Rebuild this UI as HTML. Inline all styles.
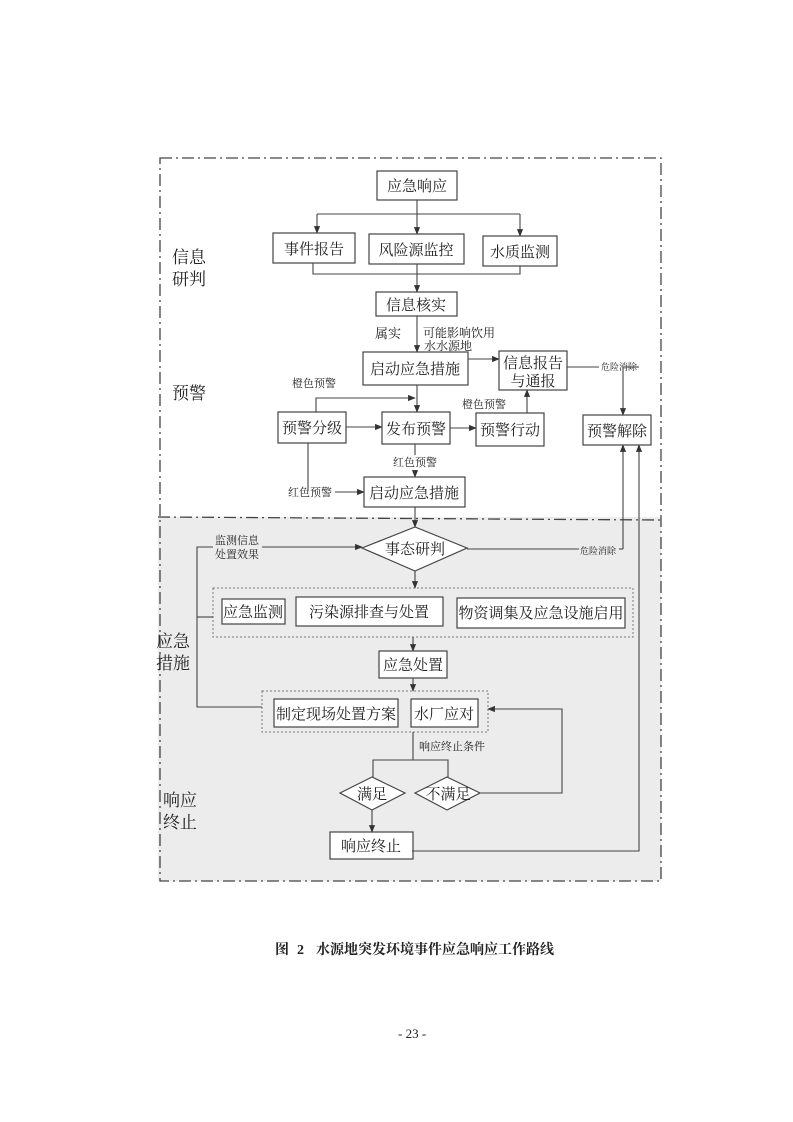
<!DOCTYPE html>
<html><head><meta charset="utf-8"><style>
html,body{margin:0;padding:0;background:#fff;}
svg{display:block;}
text{font-family:"Liberation Serif","Noto Serif CJK SC","Noto Sans CJK SC",serif;fill:#222;}
</style></head><body>
<svg width="793" height="1122" viewBox="0 0 793 1122" xmlns="http://www.w3.org/2000/svg">
<defs>
<marker id="a" viewBox="0 0 10 10" refX="9" refY="5" markerWidth="7" markerHeight="7" orient="auto"><path d="M0,1 L10,5 L0,9 z" fill="#333"/></marker>
</defs>
<rect x="0" y="0" width="793" height="1122" fill="#fff"/>
<rect x="158" y="517" width="503" height="364" fill="#ececec"/>
<g fill="none" stroke="#444" stroke-width="1.3" stroke-dasharray="12,4,2,4">
<rect x="160" y="158" width="501" height="723"/>
<line x1="158" y1="517" x2="661" y2="520"/>
</g>
<g font-size="17">
<text x="172" y="263">信息</text><text x="172" y="285">研判</text>
<text x="172" y="399">预警</text>
<text x="156" y="647">应急</text><text x="156" y="669">措施</text>
<text x="163" y="806">响应</text><text x="163" y="828">终止</text>
</g>
<g fill="#fff" stroke="#444" stroke-width="1.2">
<rect x="377" y="171" width="80" height="29"/>
<rect x="273" y="233" width="82" height="30"/>
<rect x="369" y="234" width="95" height="30"/>
<rect x="483" y="236" width="74" height="30"/>
<rect x="376" y="292" width="81" height="24"/>
<rect x="363" y="352" width="105" height="33"/>
<rect x="499" y="351" width="68" height="39"/>
<rect x="278" y="412" width="68" height="31"/>
<rect x="382" y="412" width="68" height="32"/>
<rect x="476" y="413" width="68" height="33"/>
<rect x="583" y="415" width="68" height="30"/>
<rect x="364" y="477" width="101" height="30"/>
</g>
<g fill="none" stroke="#777" stroke-width="1" stroke-dasharray="2,2">
<rect x="213" y="588" width="420" height="49"/>
<rect x="262" y="691" width="226" height="41"/>
</g>
<g fill="#fff" stroke="#444" stroke-width="1.2">
<rect x="222" y="599" width="63" height="25"/>
<rect x="296" y="597" width="147" height="29"/>
<rect x="457" y="598" width="168" height="30"/>
<rect x="379" y="651" width="68" height="27"/>
<rect x="274" y="699" width="124" height="28"/>
<rect x="411" y="699" width="67" height="28"/>
<rect x="330" y="832" width="83" height="27"/>
<polygon points="362,548 415,527 467,548 415,571"/>
<polygon points="340,793 372,777 405,793 372,810"/>
<polygon points="415,793 447,777 480,793 447,810"/>
</g>
<g font-size="15" text-anchor="middle">
<text x="417" y="191">应急响应</text>
<text x="314" y="254">事件报告</text>
<text x="416" y="255">风险源监控</text>
<text x="520" y="257">水质监测</text>
<text x="416" y="310">信息核实</text>
<text x="415" y="374">启动应急措施</text>
<text x="533" y="368">信息报告</text>
<text x="533" y="386">与通报</text>
<text x="312" y="433">预警分级</text>
<text x="416" y="434">发布预警</text>
<text x="510" y="435">预警行动</text>
<text x="617" y="436">预警解除</text>
<text x="414" y="498">启动应急措施</text>
<text x="415" y="554">事态研判</text>
<text x="253" y="617">应急监测</text>
<text x="369" y="617">污染源排查与处置</text>
<text x="541" y="618">物资调集及应急设施启用</text>
<text x="413" y="670">应急处置</text>
<text x="336" y="719">制定现场处置方案</text>
<text x="444" y="719">水厂应对</text>
<text x="372" y="799">满足</text>
<text x="448" y="799">不满足</text>
<text x="371" y="851">响应终止</text>
</g>
<g font-size="11">
<text x="375" y="338" font-size="13">属实</text>
<text x="423" y="337" font-size="12">可能影响饮用</text>
<text x="424" y="350" font-size="12">水水源地</text>
<text x="292" y="387">橙色预警</text>
<text x="462" y="408">橙色预警</text>
<text x="393" y="466">红色预警</text>
<text x="288" y="496">红色预警</text>
<text x="215" y="544">监测信息</text>
<text x="215" y="558">处置效果</text>
<text x="419" y="750">响应终止条件</text>
</g>
<g font-size="9">
<rect x="599" y="360" width="40" height="12" fill="#fff"/>
<text x="601" y="370">危险消除</text>
<rect x="579" y="544" width="40" height="12" fill="#ececec"/>
<text x="580" y="554">危险消除</text>
</g>
<g fill="none" stroke="#444" stroke-width="1.1">
<line x1="417" y1="200" x2="417" y2="214"/>
<line x1="317" y1="214" x2="520" y2="214"/>
<line x1="317" y1="214" x2="317" y2="233" marker-end="url(#a)"/>
<line x1="417" y1="214" x2="417" y2="234" marker-end="url(#a)"/>
<line x1="520" y1="214" x2="520" y2="236" marker-end="url(#a)"/>
<polyline points="313,263 313,274 520,274 520,266"/>
<line x1="417" y1="264" x2="417" y2="292" marker-end="url(#a)"/>
<line x1="417" y1="316" x2="417" y2="352" marker-end="url(#a)"/>
<line x1="468" y1="359" x2="499" y2="359" marker-end="url(#a)"/>
<polyline points="567,367 599,367"/>
<line x1="639" y1="367" x2="623" y2="367"/>
<line x1="623" y1="367" x2="623" y2="415" marker-end="url(#a)"/>
<line x1="417" y1="385" x2="417" y2="412" marker-end="url(#a)"/>
<polyline points="316,412 316,398 415,398" marker-end="url(#a)"/>
<line x1="346" y1="427" x2="382" y2="427" marker-end="url(#a)"/>
<line x1="450" y1="428" x2="476" y2="428" marker-end="url(#a)"/>
<line x1="527" y1="413" x2="527" y2="390" marker-end="url(#a)"/>
<line x1="415" y1="444" x2="415" y2="455"/>
<line x1="415" y1="470" x2="415" y2="477" marker-end="url(#a)"/>
<polyline points="308,443 308,491"/>
<line x1="335" y1="492" x2="364" y2="492" marker-end="url(#a)"/>
<line x1="415" y1="507" x2="415" y2="527" marker-end="url(#a)"/>
<polyline points="467,549 579,549"/>
<line x1="619" y1="549" x2="623" y2="549"/>
<line x1="623" y1="549" x2="623" y2="445" marker-end="url(#a)"/>
<polyline points="412,851 639,851 639,445" marker-end="url(#a)"/>
<line x1="415" y1="571" x2="415" y2="588" marker-end="url(#a)"/>
<polyline points="262,707 197,707 197,547 213,547"/>
<line x1="262" y1="547" x2="362" y2="547" marker-end="url(#a)"/>
<line x1="197" y1="617" x2="213" y2="617"/>
<line x1="413" y1="637" x2="413" y2="651" marker-end="url(#a)"/>
<line x1="413" y1="678" x2="413" y2="691" marker-end="url(#a)"/>
<polyline points="413,732 413,760"/>
<polyline points="373,777 373,760 448,760 448,777"/>
<line x1="372" y1="810" x2="372" y2="832" marker-end="url(#a)"/>
<polyline points="480,793 562,793 562,709 488,709" marker-end="url(#a)"/>
</g>
<g font-size="14" font-weight="bold">
<text x="275" y="954">图</text>
<text x="297" y="954">2</text>
<text x="316" y="954">水源地突发环境事件应急响应工作路线</text>
</g>
<text x="398" y="1038" font-size="13">- 23 -</text>
</svg>
</body></html>
